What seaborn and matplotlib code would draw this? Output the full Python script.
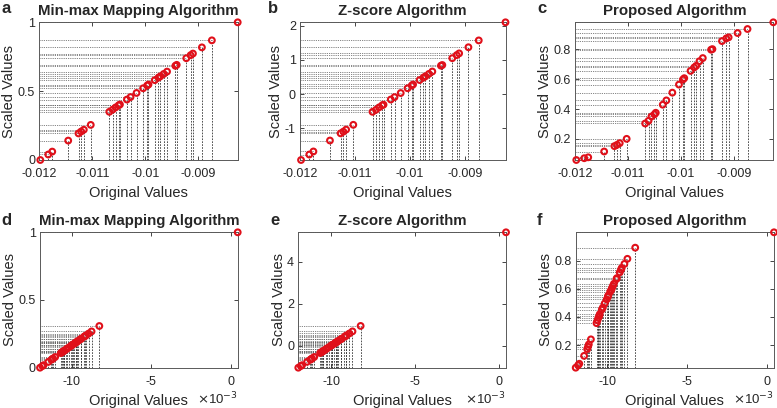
import numpy as np
import seaborn as sns
import matplotlib
matplotlib.use("Agg")
import matplotlib.pyplot as plt
from matplotlib.ticker import FuncFormatter

# original samples, plus the outlier added in the bottom row
original_values = [-0.011981, -0.011831, -0.011756, -0.011455, -0.011261, -0.011211,
                   -0.011161, -0.011030, -0.010680, -0.010617, -0.010561, -0.010505,
                   -0.010480, -0.010348, -0.010280, -0.010167, -0.010042, -0.009967,
                   -0.009942, -0.009823, -0.009754, -0.009717, -0.009654, -0.009592,
                   -0.009435, -0.009410, -0.009229, -0.009148, -0.009104, -0.008935,
                   -0.008747, -0.008260]
outlier_value = 0.00042

# top row: scaled values without the outlier
minmax_top = [0.0, 0.040, 0.061, 0.141, 0.193, 0.207, 0.220, 0.255, 0.350, 0.366, 0.382,
              0.397, 0.403, 0.439, 0.457, 0.487, 0.521, 0.541, 0.548, 0.580, 0.598, 0.608,
              0.625, 0.642, 0.684, 0.691, 0.739, 0.761, 0.773, 0.818, 0.869, 1.0]
zscore_top = [-1.93, -1.77, -1.68, -1.36, -1.15, -1.10, -1.04, -0.90, -0.52, -0.46, -0.39,
              -0.33, -0.31, -0.16, -0.09, 0.03, 0.17, 0.25, 0.28, 0.41, 0.48, 0.52, 0.59,
              0.66, 0.83, 0.85, 1.05, 1.14, 1.19, 1.37, 1.57, 2.10]
proposed_top = [0.058, 0.070, 0.076, 0.115, 0.151, 0.160, 0.171, 0.200, 0.303, 0.321, 0.350,
                0.364, 0.375, 0.429, 0.458, 0.510, 0.564, 0.598, 0.607, 0.656, 0.679, 0.690,
                0.721, 0.742, 0.798, 0.802, 0.856, 0.874, 0.881, 0.910, 0.937, 0.982]

# bottom row: scaled values with the outlier appended
minmax_bottom = [0.0, 0.012, 0.019, 0.043, 0.059, 0.064, 0.068, 0.079, 0.108, 0.113, 0.118,
                 0.122, 0.124, 0.135, 0.141, 0.150, 0.160, 0.167, 0.169, 0.179, 0.184, 0.187,
                 0.193, 0.198, 0.211, 0.213, 0.228, 0.234, 0.238, 0.252, 0.268, 0.308, 1.0]
zscore_bottom = [-1.04, -0.96, -0.92, -0.76, -0.66, -0.63, -0.60, -0.53, -0.34, -0.31, -0.28,
                 -0.25, -0.24, -0.17, -0.13, -0.07, 0.00, 0.04, 0.05, 0.11, 0.15, 0.17, 0.20,
                 0.24, 0.32, 0.33, 0.43, 0.47, 0.50, 0.59, 0.69, 0.95, 5.41]
proposed_bottom = [0.040, 0.057, 0.068, 0.124, 0.172, 0.189, 0.205, 0.241, 0.356, 0.376, 0.395,
                   0.407, 0.419, 0.452, 0.467, 0.496, 0.524, 0.543, 0.553, 0.579, 0.591, 0.604,
                   0.620, 0.635, 0.668, 0.675, 0.716, 0.735, 0.747, 0.776, 0.812, 0.891, 1.0]

titles = ["Min-max Mapping Algorithm", "Z-score Algorithm", "Proposed Algorithm"]
letters = ["a", "b", "c", "d", "e", "f"]
top_xticks = [-0.012, -0.011, -0.01, -0.009]
bottom_xticks = [-0.01, -0.005, 0.0]
yticks = [[0, 0.5, 1], [-1, 0, 1, 2], [0.2, 0.4, 0.6, 0.8],
          [0, 0.5, 1], [0, 2, 4], [0.2, 0.4, 0.6, 0.8]]

sns.set_style("ticks")
plt.rcParams['font.family'] = ['Liberation Sans', 'DejaVu Sans']
plt.rcParams['axes.unicode_minus'] = False

W, H = 777, 408
fig = plt.figure(figsize=(W / 100, H / 100), dpi=100)

# axes boxes in pixels: left, top, right, bottom
boxes = [(39.3, 22.3, 237.7, 160.0), (300.0, 22.3, 505.5, 160.0), (575.3, 22.3, 773.3, 160.0),
         (40.0, 232.3, 237.7, 367.7), (298.3, 232.3, 506.0, 367.7), (575.7, 232.3, 774.0, 367.7)]
letter_pos = [(1, 13), (268, 13), (537, 13), (1, 225), (270, 225), (537, 225)]

x_top = np.array(original_values)
x_bottom = np.array(original_values + [outlier_value])
series = [minmax_top, zscore_top, proposed_top, minmax_bottom, zscore_bottom, proposed_bottom]

red = '#e0101a'
for i, ys in enumerate(series):
    l, t, r, b = boxes[i]
    ax = fig.add_axes([l / W, 1 - b / H, (r - l) / W, (b - t) / H])
    x = x_top if i < 3 else x_bottom
    y = np.array(ys)
    x0, y0 = x.min(), y.min()

    ax.vlines(x, y0, y, colors='0.2', linewidth=0.6, linestyles=(0, (2, 1.5)), zorder=1)
    ax.hlines(y, x0, x, colors='0.35', linewidth=0.6, linestyles=(0, (1, 1.2)), zorder=1)
    sns.scatterplot(x=x, y=y, ax=ax, marker='o', s=17, facecolor='none',
                    edgecolor=red, linewidth=1.5, zorder=3, clip_on=False, legend=False)

    ax.set_xlim(x0, x.max())
    ax.set_ylim(y0, y.max())
    ax.set_yticks(yticks[i])
    ax.yaxis.set_major_formatter(FuncFormatter(lambda v, p: f"{v:g}"))
    if i < 3:
        ax.set_xticks(top_xticks)
        ax.xaxis.set_major_formatter(FuncFormatter(lambda v, p: f"{v:g}"))
    else:
        ax.set_xticks(bottom_xticks)
        ax.xaxis.set_major_formatter(FuncFormatter(lambda v, p: f"{v * 1000:g}"))
        ax.text(1.0, -(404 - b) / (b - t), r"$\times$10$^{-3}$", transform=ax.transAxes,
                ha='right', va='baseline', fontsize=9.5, color='0.15')

    ax.tick_params(direction='in', length=3, width=0.6, top=True, right=True,
                   labelsize=9, colors='0.15')
    ax.tick_params(axis='x', pad=6)
    ax.tick_params(axis='y', pad=3)
    for sp in ax.spines.values():
        sp.set_color('0.35')
        sp.set_linewidth(0.7)
    ax.set_xlabel("Original Values", fontsize=10.5, color='0.15', labelpad=4)
    ax.set_ylabel("Scaled Values", fontsize=10.5, color='0.15', labelpad=1)
    ax.set_title(titles[i % 3], fontsize=10.8, fontweight='bold', pad=5)

    lx, ly = letter_pos[i]
    fig.text(lx / W, 1 - ly / H, letters[i], fontsize=12, fontweight='bold', va='baseline')

fig.savefig("out.png", dpi=100)
